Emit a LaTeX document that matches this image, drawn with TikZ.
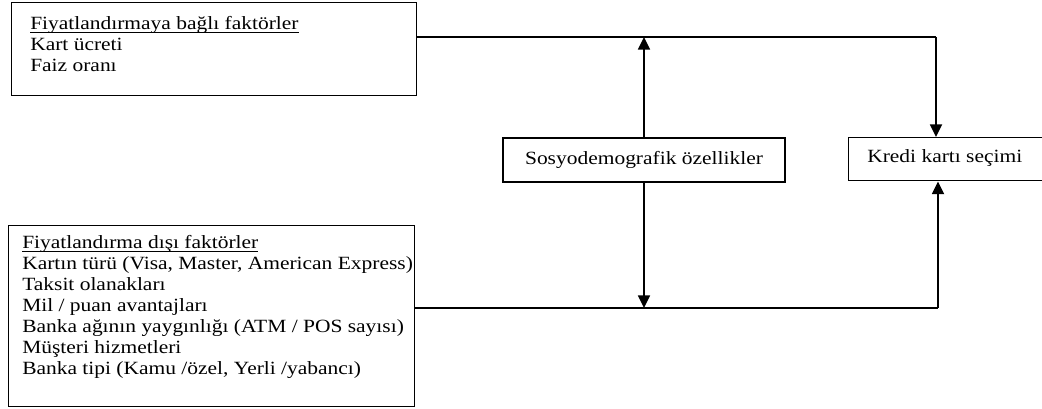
\documentclass[tikz,border=0pt]{standalone}
\usepackage{fontspec}
\setmainfont{Liberation Serif}[FakeStretch=1.15]
\usetikzlibrary{arrows.meta}
\usetikzlibrary{positioning}

\newcommand{\headline}[1]{\setbox0\hbox{#1}\rlap{\rule[-2.4pt]{\wd0}{0.8pt}}\box0}

\tikzset{
  boxline/.style={draw, line width=1.1pt, inner sep=0pt},
  itemtext/.style={anchor=north west, align=left, inner sep=0pt,
    font=\fontsize{14}{15.75}\selectfont},
  linktext/.style={font=\fontsize{14}{15.75}\selectfont},
  flowline/.style={line width=0.8pt},
  flowarrow/.style={line width=1.3pt, -{Triangle[length=9.5pt,width=9pt]}},
}

\begin{document}
\begin{tikzpicture}[x=0.75pt,y=-0.75pt]
            \useasboundingbox (0,0) rectangle (1042,409);
            % factor boxes
            \node[boxline, minimum width=303.75pt, minimum height=69.75pt, anchor=north west] (fiyatbox) at (11,2) {};
            \node[itemtext, below right=10.5pt and 14.25pt of fiyatbox.north west] (fiyattext)
                {\headline{Fiyatlandırmaya bağlı faktörler}\\Kart ücreti\\Faiz oranı};
            \node[boxline, minimum width=304.5pt, minimum height=135.75pt, anchor=north west] (disbox) at (8,225) {};
            \node[itemtext, below right=7.5pt and 10.5pt of disbox.north west] (distext)
                {\headline{Fiyatlandırma dışı faktörler}\\Kartın türü (Visa, Master, American Express)\\Taksit olanakları\\Mil / puan avantajları\\Banka ağının yaygınlığı (ATM / POS sayısı)\\Müşteri hizmetleri\\Banka tipi (Kamu /özel, Yerli /yabancı)};
            % middle and result boxes
            \node[boxline, linktext, minimum width=211.5pt, minimum height=33pt] (sosyo) at (644,160) {Sosyodemografik özellikler};
            \node[boxline, minimum width=170pt, minimum height=32.25pt, anchor=north west] (kredi) at (848,137) {};
            \node[linktext, anchor=west, inner sep=0pt] (kreditext) at (867,158.5) {Kredi kartı seçimi};
            % connectors
            \coordinate (topb) at (936,37);
            \coordinate (botb) at (938,308);
            \draw[flowline] (fiyatbox.east |- topb) -- (topb);
            \draw[flowline] (disbox.east |- botb) -- (botb);
            \draw[flowarrow] (sosyo.north) -- (sosyo.north |- topb);
            \draw[flowarrow] (topb) -- (kredi.north -| topb);
            \draw[flowarrow] (sosyo.south) -- (sosyo.south |- botb);
            \draw[flowarrow] (botb) -- (kredi.south -| botb);
        \end{tikzpicture}
\end{document}
